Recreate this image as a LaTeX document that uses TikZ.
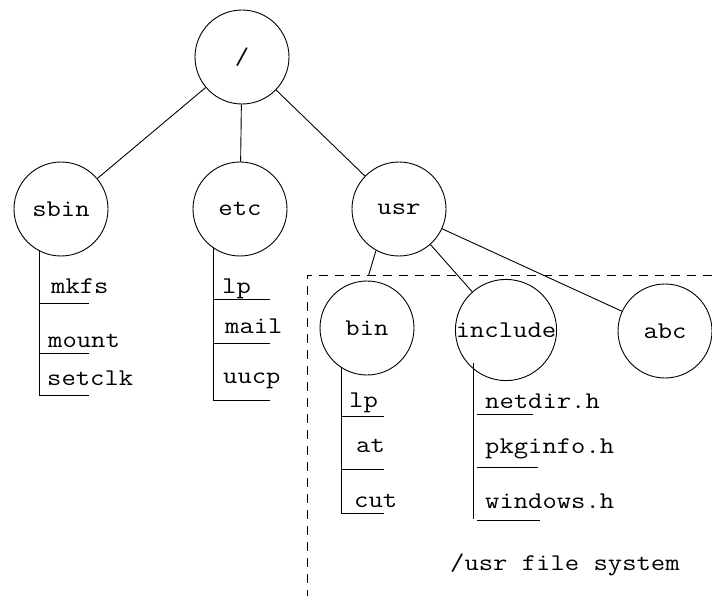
\documentclass[tikz,border=0pt]{standalone}
\usepackage{fontspec}
\usepackage{graphicx}
\newcommand{\cw}[1]{\scalebox{1.16}[1]{\ttfamily\fontsize{24}{24}\selectfont #1}}
\begin{document}
\begin{tikzpicture}[x=1pt,y=-1pt,
  dir/.style={draw, circle, line width=0.9pt, minimum size=94pt, inner sep=0pt},
  item/.style={anchor=base west, inner sep=0pt},
  link/.style={line width=0.9pt},
  listline/.style={line width=0.6pt},
  fsbox/.style={line width=0.8pt, dash pattern=on 9pt off 7pt}]
\useasboundingbox (0,0) rectangle (712,596);
% directories
\node[dir] (root) at (242,57) {\cw{/}};
\node[dir] (sbin) at (61,209) {\cw{sbin}};
\node[dir] (etc) at (240,209) {\cw{etc}};
\node[dir] (usr) at (399,209) {\cw{usr}};
\node[dir] (bin) at (367,328) {\cw{bin}};
\node[dir] (include) at (506,330) {\cw{include}};
\node[dir] (abc) at (665,331) {\cw{abc}};
% links
\draw[link] (root) -- (sbin);
\draw[link] (root) -- (etc);
\draw[link] (root) -- (usr);
\draw[link, shorten >=5pt] (usr.241) -- (bin.north);
\draw[link] (usr) -- (include);
\draw[link] (usr) -- (abc);
% /usr file system boundary
\coordinate (fsright) at (712,275);
\coordinate (fscorner) at (307,275);
\coordinate (fsbottom) at (307,596);
\draw[fsbox] (fsright) -- (fscorner) -- (fsbottom);
% sbin files
\node[item] (mkfs) at (51,293) {\cw{mkfs}};
\node[item] (mount) at (48,347) {\cw{mount}};
\node[item] (setclk) at (47,385) {\cw{setclk}};
\draw[listline] (39,250) -- (39,395) -- (89,395);
\draw[listline] (39,303) -- (89,303);
\draw[listline] (39,353) -- (89,353);
% etc files
\node[item] (elp) at (222,293) {\cw{lp}};
\node[item] (mail) at (225,333) {\cw{mail}};
\node[item] (uucp) at (223,383) {\cw{uucp}};
\draw[listline] (213,247) -- (213,400) -- (270,400);
\draw[listline] (213,299) -- (270,299);
\draw[listline] (213,343) -- (270,343);
% bin files
\node[item] (blp) at (349,407) {\cw{lp}};
\node[item] (at) at (356,452) {\cw{at}};
\node[item] (cut) at (354,507) {\cw{cut}};
\draw[listline] (341,367) -- (341,513) -- (384,513);
\draw[listline] (341,416) -- (384,416);
\draw[listline] (341,469) -- (384,469);
% include files
\node[item] (netdir) at (485,408) {\cw{netdir.h}};
\node[item] (pkginfo) at (485,453) {\cw{pkginfo.h}};
\node[item] (windows) at (485,508) {\cw{windows.h}};
\draw[listline] (473,363) -- (473,519);
\draw[listline] (477,414) -- (533,414);
\draw[listline] (477,467) -- (538,467);
\draw[listline] (477,520) -- (540,520);
% label
\node[item] (fslabel) at (450,570) {\cw{/usr file system}};
\end{tikzpicture}
\end{document}
